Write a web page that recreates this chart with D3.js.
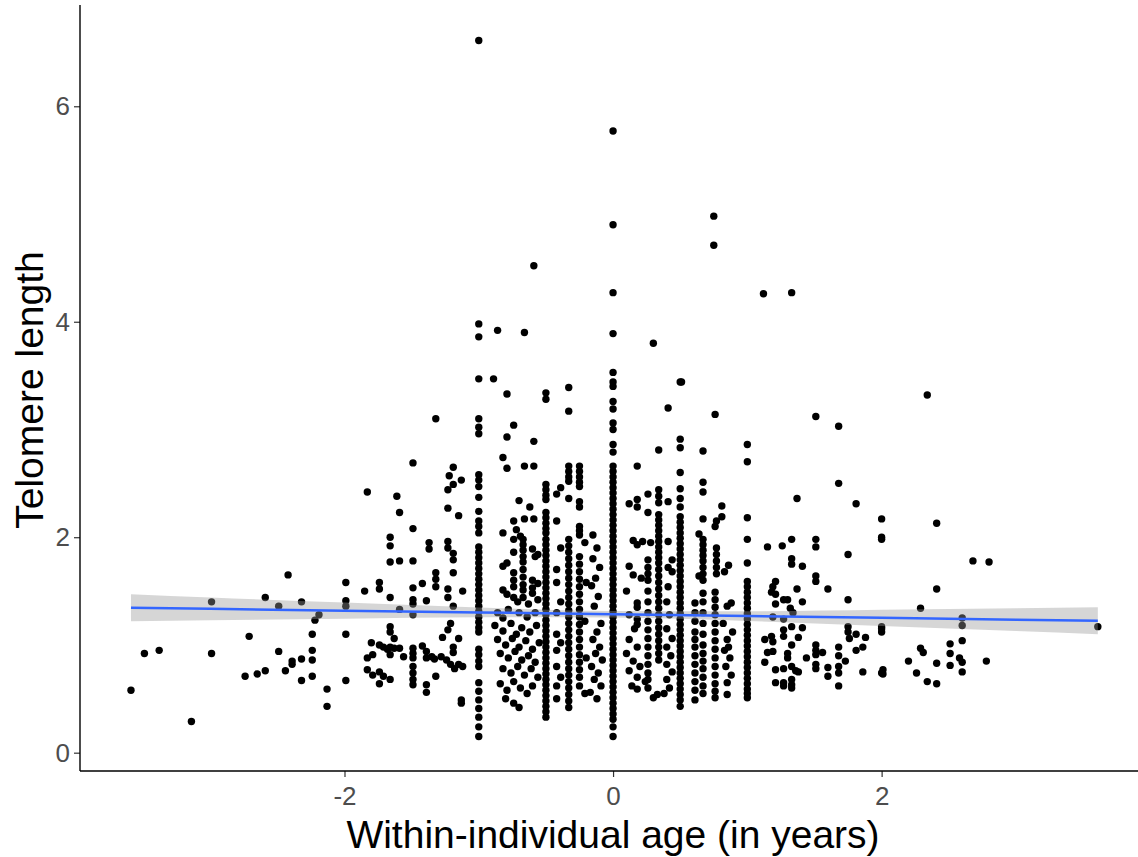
<!doctype html>
<html>
<head>
<meta charset="utf-8">
<title>Telomere length by within-individual age</title>
<script src="https://cdn.jsdelivr.net/npm/d3@7"></script>
<style>
  body { margin: 0; background: #fff; }
  svg text { font-family: "Liberation Sans", Arial, sans-serif; }
</style>
</head>
<body>
<svg id="chart" width="1138" height="857"></svg>
<script>
// axis ticks
const ticksX = [-2, 0, 2];
const ticksY = [0, 2, 4, 6];

// dense vertical stacks (telomere length) at the common sampling ages
const stackNeg1 = [6.61, 3.98, 3.86, 3.47, 3.10, 3.02, 2.96, 2.58, 2.53, 2.47, 2.37, 2.24, 2.15, 2.10, 2.04,
  1.91, 1.86, 1.81, 1.76, 1.71, 1.66, 1.61, 1.56, 1.51, 1.46, 1.41, 1.36, 1.31, 1.26, 1.21, 1.16, 1.12,
  0.96, 0.91, 0.85, 0.80, 0.65, 0.57, 0.49, 0.41, 0.33, 0.24, 0.15];
const stackNegHalf = [3.34, 3.28, 2.49, 2.44, 2.39, 2.35, 2.23, 2.18, 2.13, 2.08, 2.04, 1.98, 1.93, 1.88,
  1.83, 1.78, 1.73, 1.68, 1.63, 1.58, 1.53, 1.48, 1.43, 1.38, 1.33, 1.28, 1.23, 1.18, 1.13, 1.08, 1.03,
  0.98, 0.93, 0.88, 0.83, 0.78, 0.73, 0.68, 0.63, 0.58, 0.53, 0.48, 0.43, 0.38, 0.33];
const stackZero = [5.77, 4.90, 4.27, 3.89, 3.53, 3.44, 3.40, 3.26, 3.19, 3.06, 3.00, 2.86, 2.79, 2.66, 2.61,
  2.56, 2.51, 2.46, 2.41, 2.36, 2.31, 2.26, 2.21, 2.16, 2.11, 2.06, 2.01, 1.96, 1.91, 1.86, 1.81, 1.76,
  1.71, 1.66, 1.61, 1.56, 1.51, 1.46, 1.41, 1.36, 1.31, 1.26, 1.21, 1.16, 1.11, 1.06, 1.01, 0.96, 0.91,
  0.86, 0.81, 0.76, 0.71, 0.66, 0.61, 0.56, 0.51, 0.46, 0.41, 0.36, 0.31, 0.24, 0.15];
const stackHalf = [3.44, 2.91, 2.83, 2.60, 2.45, 2.36, 2.28, 2.19, 2.14, 2.09, 2.04, 1.99, 1.94, 1.89, 1.84,
  1.79, 1.74, 1.69, 1.64, 1.59, 1.54, 1.49, 1.44, 1.39, 1.34, 1.29, 1.24, 1.19, 1.14, 1.09, 1.04, 0.99,
  0.94, 0.89, 0.84, 0.79, 0.74, 0.69, 0.64, 0.59, 0.54, 0.49, 0.43];
const stackOne = [2.86, 2.70, 2.18, 1.98, 1.76, 1.59, 1.54, 1.49, 1.44, 1.39, 1.34, 1.29, 1.24, 1.19, 1.14,
  1.09, 1.04, 0.99, 0.94, 0.89, 0.84, 0.79, 0.74, 0.69, 0.64, 0.59, 0.55, 0.51];
const stackAges = [-1, -0.5, 0, 0.5, 1];

// scattered points [age, telomere length]
const leftPts = [[-3.59,0.58],[-3.49,0.92],[-3.38,0.95],[-3.14,0.29],[-2.99,1.40],[-2.99,0.92],[-2.71,1.08],
  [-2.74,0.71],[-2.65,0.73],[-2.59,0.76],[-2.59,1.44],[-2.49,1.36],[-2.49,0.94],[-2.42,1.65],[-2.44,0.76],
  [-2.39,0.85],[-2.39,0.82],[-2.32,1.40],[-2.32,0.87],[-2.32,0.67],[-2.24,1.10],[-2.24,0.95],[-2.24,0.86],
  [-2.24,0.71],[-2.22,1.23],[-2.19,1.28],[-2.13,0.59],[-2.13,0.43],[-1.99,1.58],[-1.99,1.41],[-1.99,1.36],
  [-1.99,1.10],[-1.99,0.67]];
const midLeftPts = [[-1.32,3.10],[-1.49,2.69],[-1.83,2.42],[-1.61,2.38],[-1.59,2.23],[-1.19,2.65],[-1.22,2.57],
  [-1.19,2.49],[-1.23,2.44],[-1.13,2.53],[-1.23,2.27],[-1.15,2.20],[-1.49,2.08],[-1.66,2.00],[-1.66,1.92],
  [-1.66,1.77],[-1.59,1.78],[-1.49,1.78],[-1.37,1.95],[-1.37,1.89],[-1.23,1.96],[-1.23,1.90],[-1.19,1.85],
  [-1.19,1.79],[-1.32,1.67],[-1.32,1.61],[-1.19,1.67],[-1.85,1.50],[-1.74,1.58],[-1.74,1.52],[-1.66,1.44],
  [-1.49,1.53],[-1.42,1.57],[-1.49,1.42],[-1.49,1.38],[-1.39,1.41],[-1.32,1.54],[-1.23,1.52],[-1.23,1.44],
  [-1.12,1.50],[-1.19,1.36],[-1.59,1.33],[-1.49,1.28],[-1.66,1.17],[-1.66,1.12],[-1.63,1.06],[-1.21,1.20],
  [-1.23,1.14],[-1.27,1.07],[-1.15,1.06],[-1.80,1.02],[-1.74,1.00],[-1.71,0.98],[-1.68,0.96],[-1.66,0.98],
  [-1.63,0.97],[-1.59,0.97],[-1.66,0.91],[-1.56,0.89],[-1.49,0.97],[-1.49,0.92],[-1.49,0.88],[-1.42,0.99],
  [-1.39,0.94],[-1.39,0.88],[-1.35,0.89],[-1.33,0.87],[-1.28,0.89],[-1.24,0.86],[-1.21,0.82],[-1.18,0.78],
  [-1.15,0.82],[-1.12,0.80],[-1.19,0.98],[-1.19,0.93],[-1.83,0.88],[-1.79,0.91],[-1.83,0.77],[-1.79,0.72],
  [-1.74,0.75],[-1.74,0.64],[-1.71,0.71],[-1.66,0.68],[-1.49,0.80],[-1.49,0.74],[-1.49,0.68],[-1.49,0.63],
  [-1.39,0.63],[-1.39,0.56],[-1.32,0.71],[-1.13,0.49],[-1.13,0.46]];
const nearZeroPts = [[-0.86,3.92],[-0.89,3.47],[-0.66,3.90],[-0.79,3.33],[-0.74,3.04],[-0.79,2.93],
  [-0.82,2.74],[-0.79,2.64],[-0.66,2.66],[-0.59,2.66],[-0.59,2.89],[-0.59,4.52],[-0.33,3.39],[-0.33,3.17],
  [-0.33,2.66],[-0.33,2.61],[-0.33,2.56],[-0.33,2.52],[-0.33,2.36],[-0.25,2.66],[-0.25,2.61],[-0.25,2.56],
  [-0.25,2.51],[-0.25,2.47],[-0.25,2.33],[-0.25,2.28],[-0.25,2.10],[-0.25,2.06],[-0.25,2.02],
  [-0.39,2.46],[-0.42,2.40],[-0.70,2.34],[-0.62,2.28],[-0.42,2.15],
  [-0.82,2.04],[-0.74,2.15],[-0.66,2.17],[-0.59,2.17],[-0.72,2.07],[-0.69,2.01],[-0.74,1.98],[-0.67,1.98],
  [-0.67,1.93],[-0.67,1.88],[-0.67,1.82],[-0.67,1.77],[-0.60,1.89],[-0.56,1.84],[-0.58,1.82],[-0.74,1.86],
  [-0.82,1.73],[-0.79,1.76],[-0.74,1.67],[-0.74,1.60],[-0.74,1.54],[-0.67,1.70],[-0.67,1.63],[-0.67,1.56],
  [-0.67,1.51],[-0.60,1.60],[-0.60,1.53],[-0.60,1.48],[-0.56,1.57],[-0.82,1.51],[-0.79,1.47],[-0.74,1.44],
  [-0.71,1.40],[-0.67,1.44],[-0.63,1.38],[-0.56,1.42],[-0.86,1.30],[-0.82,1.25],[-0.78,1.33],[-0.70,1.30],
  [-0.64,1.26],[-0.58,1.30],[-0.88,1.18],[-0.82,1.13],[-0.76,1.20],[-0.72,1.10],[-0.68,1.16],[-0.62,1.12],
  [-0.57,1.18],[-0.86,1.05],[-0.80,1.00],[-0.75,1.06],[-0.70,0.98],[-0.65,1.04],[-0.60,0.96],[-0.55,1.02],
  [-0.84,0.92],[-0.78,0.88],[-0.73,0.94],[-0.68,0.86],[-0.63,0.90],[-0.58,0.84],[-0.82,0.78],[-0.76,0.74],
  [-0.71,0.80],[-0.66,0.72],[-0.61,0.78],[-0.56,0.70],[-0.84,0.64],[-0.79,0.58],[-0.74,0.66],[-0.69,0.60],
  [-0.64,0.55],[-0.80,0.50],[-0.74,0.46],[-0.70,0.42],[-0.60,0.62],
  [-0.33,1.98],[-0.33,1.92],[-0.33,1.86],[-0.33,1.80],[-0.33,1.74],[-0.33,1.68],[-0.33,1.62],[-0.33,1.56],
  [-0.33,1.50],[-0.33,1.44],[-0.33,1.38],[-0.33,1.32],[-0.33,1.26],[-0.33,1.20],[-0.33,1.14],[-0.33,1.08],
  [-0.33,1.02],[-0.33,0.96],[-0.33,0.90],[-0.33,0.84],[-0.33,0.78],[-0.33,0.72],[-0.33,0.66],[-0.33,0.60],
  [-0.33,0.54],[-0.33,0.48],[-0.33,0.42],
  [-0.25,1.82],[-0.25,1.75],[-0.25,1.68],[-0.25,1.61],[-0.25,1.54],[-0.25,1.47],[-0.25,1.40],[-0.25,1.33],
  [-0.25,1.26],[-0.25,1.19],[-0.25,1.12],[-0.25,1.05],[-0.25,0.98],[-0.25,0.91],[-0.25,0.84],[-0.25,0.77],
  [-0.25,0.70],[-0.25,0.62],[-0.21,1.95],[-0.20,1.58],[-0.21,1.22],[-0.20,0.88],[-0.21,0.55],
  [-0.15,2.02],[-0.12,1.90],[-0.15,1.80],[-0.10,1.72],[-0.13,1.62],[-0.16,1.55],[-0.11,1.45],[-0.14,1.36],
  [-0.09,1.20],[-0.12,1.12],[-0.15,1.05],[-0.10,0.98],[-0.13,0.92],[-0.08,0.86],[-0.16,0.80],[-0.11,0.74],
  [-0.14,0.68],[-0.09,0.62],[-0.17,0.56],[-0.12,0.50],
  [-0.42,1.70],[-0.42,1.58],[-0.42,1.30],[-0.42,1.10],[-0.42,0.95],[-0.42,0.80],[-0.42,0.62],[-0.42,0.50],
  [-0.39,1.90],[-0.39,1.40],[-0.39,1.02],[-0.39,0.70]];
const midRightPts = [[0.30,3.80],[0.51,3.44],[0.41,3.20],[0.76,3.14],[0.75,4.98],[0.75,4.71],[0.34,2.81],
  [0.18,2.66],[0.67,2.80],[0.67,2.51],[0.67,2.42],[0.67,2.17],[0.26,2.40],[0.41,2.33],[0.12,2.31],
  [0.18,2.35],[0.18,2.28],[0.26,2.23],
  [0.34,2.44],[0.34,2.38],[0.34,2.32],[0.34,2.21],[0.34,2.16],[0.34,2.11],[0.34,2.06],[0.34,2.01],
  [0.34,1.96],[0.34,1.91],[0.34,1.86],[0.34,1.81],[0.34,1.76],[0.34,1.70],[0.34,1.64],[0.34,1.58],
  [0.34,1.52],[0.34,1.46],[0.34,1.40],[0.34,1.34],[0.34,1.28],[0.34,1.22],[0.34,1.16],[0.34,1.10],
  [0.34,1.04],[0.34,0.98],[0.34,0.92],[0.34,0.86],
  [0.81,2.29],[0.81,2.19],[0.77,2.15],[0.76,2.10],[0.64,2.03],[0.15,1.97],[0.18,1.93],[0.22,1.96],
  [0.28,1.95],[0.41,1.96],[0.44,1.79],[0.41,1.72],[0.44,1.68],[0.12,1.73],[0.15,1.65],[0.21,1.62],
  [0.26,1.79],[0.26,1.72],[0.26,1.66],[0.26,1.60],
  [0.67,1.98],[0.67,1.93],[0.67,1.88],[0.67,1.83],[0.67,1.78],[0.67,1.72],[0.67,1.66],[0.67,1.60],
  [0.77,1.90],[0.77,1.84],[0.77,1.78],[0.77,1.72],[0.77,1.66],[0.86,1.74],[0.83,1.68],[0.64,1.64],
  [0.41,1.54],[0.18,1.39],[0.18,1.35],[0.85,1.36],[0.88,1.39],[0.18,1.24],[0.18,1.19],
  [0.30,0.51],[0.33,0.54],[0.18,0.59],[0.67,0.55],[0.85,0.54],
  [0.10,1.50],[0.12,1.28],[0.16,1.15],[0.12,1.05],[0.18,0.98],[0.10,0.92],[0.15,0.85],[0.20,0.80],
  [0.12,0.76],[0.18,0.70],[0.24,0.66],[0.14,0.62],
  [0.26,1.50],[0.26,1.40],[0.26,1.30],[0.26,1.22],[0.26,1.14],[0.26,1.06],[0.26,0.98],[0.26,0.90],
  [0.26,0.82],[0.26,0.74],[0.26,0.68],[0.26,0.60],
  [0.40,1.40],[0.42,1.28],[0.40,1.15],[0.44,1.06],[0.40,0.98],[0.43,0.90],[0.40,0.82],[0.44,0.75],
  [0.40,0.68],[0.42,0.60],[0.38,0.55],
  [0.61,1.39],[0.61,1.30],[0.61,1.22],[0.61,1.12],[0.61,1.05],[0.61,0.98],[0.61,0.90],[0.61,0.82],
  [0.61,0.74],[0.61,0.66],[0.61,0.58],[0.61,0.49],
  [0.67,1.48],[0.67,1.40],[0.67,1.30],[0.67,1.20],[0.67,1.10],[0.67,1.00],[0.67,0.92],[0.67,0.85],
  [0.67,0.78],[0.67,0.70],[0.67,0.62],
  [0.76,1.49],[0.76,1.42],[0.76,1.35],[0.76,1.28],[0.76,1.20],[0.76,1.12],[0.76,1.04],[0.76,0.96],
  [0.76,0.88],[0.76,0.80],[0.76,0.72],[0.76,0.64],[0.76,0.57],[0.76,0.51],
  [0.82,1.20],[0.85,1.05],[0.83,0.95],[0.87,0.88],[0.84,0.80],[0.88,0.72],[0.85,0.65],[0.89,1.12],[0.86,0.98]];
const rightPts = [[1.12,4.26],[1.33,4.27],[1.51,3.12],[1.68,3.03],[1.68,2.50],[1.37,2.36],[1.81,2.31],
  [2.00,2.17],[2.00,2.00],[2.00,1.98],[1.33,1.98],[1.15,1.91],[1.26,1.92],[1.51,1.98],[1.51,1.91],
  [1.33,1.80],[1.33,1.75],[1.41,1.73],[1.75,1.84],[1.51,1.64],[1.51,1.59],[1.21,1.59],[1.19,1.54],
  [1.18,1.49],[1.21,1.47],[1.37,1.52],[1.60,1.52],[1.27,1.42],[1.30,1.42],[1.21,1.38],[1.41,1.40],
  [1.75,1.42],[1.32,1.34],[1.34,1.30],[1.19,1.26],[1.27,1.24],[1.33,1.17],[1.41,1.16],[1.75,1.17],
  [1.75,1.12],[2.00,1.17],[2.00,1.12],[1.27,1.14],[1.27,1.08],[1.13,1.05],[1.18,1.08],[1.19,1.03],
  [1.38,1.07],[1.33,1.00],[1.76,1.06],[1.81,1.10],[1.88,1.07],[1.51,1.00],[1.51,0.95],[1.51,0.91],
  [1.56,0.93],[1.68,0.98],[1.68,0.90],[1.81,0.95],[1.86,0.98],[1.15,0.93],[1.19,0.94],[1.30,0.92],
  [1.30,0.88],[1.13,0.84],[1.44,0.88],[1.73,0.85],[1.33,0.80],[1.36,0.76],[1.38,0.75],[1.21,0.77],
  [1.27,0.78],[1.51,0.82],[1.51,0.78],[1.60,0.79],[1.60,0.71],[1.68,0.80],[1.68,0.74],[1.86,0.75],
  [2.01,0.77],[2.01,0.73],[1.21,0.65],[1.27,0.65],[1.27,0.62],[1.33,0.68],[1.33,0.63],[1.33,0.60],
  [1.68,0.62],
  [2.34,3.32],[2.41,2.13],[2.68,1.78],[2.80,1.77],[2.41,1.52],[2.29,1.34],[2.60,1.25],[2.60,1.18],
  [3.61,1.17],[2.00,1.15],[2.60,1.04],[2.51,1.01],[2.29,0.97],[2.31,0.93],[2.51,0.92],[2.58,0.88],
  [2.60,0.84],[2.20,0.85],[2.41,0.83],[2.51,0.81],[2.78,0.85],[2.00,0.74],[2.26,0.74],[2.60,0.75],
  [2.34,0.66],[2.41,0.64]];

// linear smoother: age, fitted value, half-width of the 95% band
const smoothAge  = [-3.59, -3, -2, -1, 0, 1, 2, 3, 3.61];
const smoothFit  = [1.345, 1.335, 1.318, 1.302, 1.285, 1.268, 1.252, 1.235, 1.225];
const smoothHalf = [0.125, 0.105, 0.075, 0.045, 0.030, 0.045, 0.075, 0.105, 0.125];

const svg = d3.select("#chart");

const x = d3.scaleLinear().domain([-3.96, 3.98]).range([81.3, 1147.5]);
const y = d3.scaleLinear().domain([-0.17, 6.94]).range([771, 5]);

// collect all points
let points = [];
[stackNeg1, stackNegHalf, stackZero, stackHalf, stackOne].forEach(function(col, i) {
  col.forEach(function(v) { points.push([stackAges[i], v]); });
});
points = points.concat(leftPts, midLeftPts, nearZeroPts, midRightPts, rightPts);

svg.append("g")
  .selectAll("circle")
  .data(points)
  .join("circle")
    .attr("cx", d => x(d[0]))
    .attr("cy", d => y(d[1]))
    .attr("r", 3.7)
    .attr("fill", "#000");

// ribbon + line
const smooth = smoothAge.map((a, i) => ({ a: a, fit: smoothFit[i], lo: smoothFit[i] - smoothHalf[i], hi: smoothFit[i] + smoothHalf[i] }));

svg.append("path")
  .datum(smooth)
  .attr("fill", "#999999")
  .attr("fill-opacity", 0.4)
  .attr("d", d3.area().curve(d3.curveMonotoneX)
    .x(d => x(d.a)).y0(d => y(d.lo)).y1(d => y(d.hi)));

svg.append("path")
  .datum(smooth)
  .attr("fill", "none")
  .attr("stroke", "#3366FF")
  .attr("stroke-width", 2.5)
  .attr("d", d3.line().x(d => x(d.a)).y(d => y(d.fit)));

// axes
const xAxis = svg.append("g")
  .attr("transform", "translate(0,771)")
  .call(d3.axisBottom(x).tickValues(ticksX).tickSize(6).tickPadding(10));
const yAxis = svg.append("g")
  .attr("transform", "translate(80,0)")
  .call(d3.axisLeft(y).tickValues(ticksY).tickSize(6).tickPadding(4));

[xAxis, yAxis].forEach(function(g) {
  g.select(".domain").remove();
  g.selectAll(".tick line").attr("stroke", "#333333").attr("stroke-width", 1.2);
  g.selectAll(".tick text")
    .text(d => String(d))
    .attr("fill", "#4D4D4D")
    .style("font-size", "26px")
    .style("font-family", "'Liberation Sans', Arial, sans-serif");
});

// axis lines
svg.append("line").attr("x1", 80).attr("x2", 1138).attr("y1", 771).attr("y2", 771)
  .attr("stroke", "#000").attr("stroke-width", 1.4);
svg.append("line").attr("x1", 80).attr("x2", 80).attr("y1", 5).attr("y2", 771)
  .attr("stroke", "#000").attr("stroke-width", 1.4);

// titles
svg.append("text")
  .attr("x", 613).attr("y", 848)
  .attr("text-anchor", "middle")
  .style("font-size", "39px")
  .attr("fill", "#000")
  .text("Within-individual age (in years)");

svg.append("text")
  .attr("transform", "translate(43,390) rotate(-90)")
  .attr("text-anchor", "middle")
  .style("font-size", "39px")
  .attr("fill", "#000")
  .text("Telomere length");
</script>
</body>
</html>
